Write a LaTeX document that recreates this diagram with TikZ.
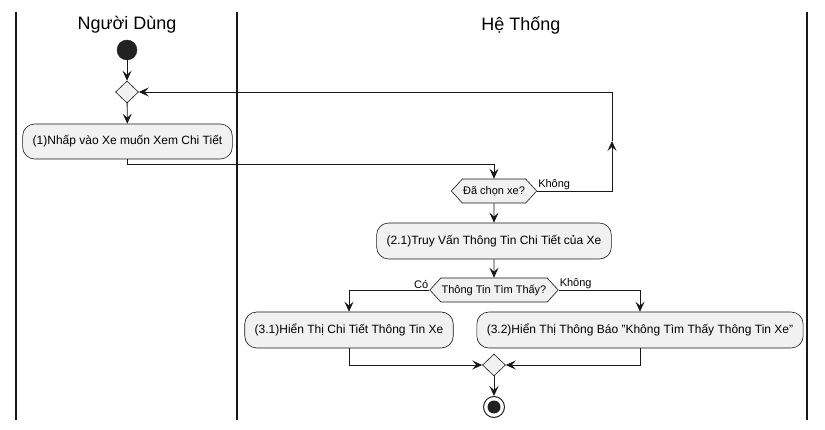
\documentclass[tikz,border=0pt]{standalone}
\usepackage{fontspec}
\setmainfont{Liberation Sans}
\usetikzlibrary{arrows.meta,shapes.geometric,shapes.symbols}
\definecolor{boxfill}{HTML}{F1F1F1}
\definecolor{ink}{HTML}{181818}
\definecolor{dot}{HTML}{222222}
\begin{document}
\begin{tikzpicture}[x=1pt,y=-1pt,
  lane/.style={draw=ink,line width=1.3pt},
  lanetitle/.style={font=\fontsize{18}{21}\selectfont,text=black,inner sep=0pt},
  action/.style={draw=ink,fill=boxfill,rounded corners=12pt,minimum height=35pt,inner xsep=10pt,inner ysep=0pt,font=\fontsize{12}{14}\selectfont,line width=0.6pt},
  decide/.style={draw=ink,fill=boxfill,shape=signal,signal to=west and east,signal pointer angle=95,minimum height=24pt,inner xsep=0.8pt,inner ysep=0pt,font=\fontsize{11}{13}\selectfont,line width=0.6pt},
  merge/.style={draw=ink,fill=boxfill,diamond,minimum width=23pt,minimum height=22pt,inner sep=0pt,line width=0.6pt},
  startdot/.style={circle,fill=dot,draw=dot,minimum size=20pt,inner sep=0pt},
  endring/.style={circle,draw=dot,fill=white,line width=1pt,minimum size=21pt,inner sep=0pt},
  enddot/.style={circle,fill=dot,minimum size=13pt,inner sep=0pt},
  flow/.style={draw=ink,line width=0.8pt,-{Stealth[length=10pt,width=9pt,inset=4pt]}},
  lbl/.style={font=\fontsize{11}{13}\selectfont,inner sep=1pt}
]
\useasboundingbox (0,0) rectangle (825,430);
% swimlanes
\draw[lane] (16,12) -- (16,420);
\draw[lane] (237,12) -- (237,420);
\draw[lane] (807,12) -- (807,420);
\node[lanetitle] (t1) at (127,25) {Người Dùng};
\node[lanetitle] (t2) at (521,25) {Hệ Thống};

% nodes
\node[startdot] (start) at (127,50) {};
\node[merge] (m1) at (127,92) {};
\node[action] (a1) at (127.5,141.5) {(1)Nhấp vào Xe muốn Xem Chi Tiết};
\node[decide] (d2) at (494,191) {Đã chọn xe?};
\node[action,minimum height=36pt] (a2) at (494,241) {(2.1)Truy Vấn Thông Tin Chi Tiết của Xe};
\node[decide] (d3) at (494,290) {Thông Tin Tìm Thấy?};
\node[action,minimum height=36pt] (a3) at (349,330) {(3.1)Hiển Thị Chi Tiết Thông Tin Xe};
\node[action,minimum height=36pt] (a4) at (640,330) {(3.2)Hiển Thị Thông Báo "Không Tìm Thấy Thông Tin Xe"};
\node[merge] (m2) at (494,365) {};
\node[endring] (end) at (494,407) {};
\node[enddot] (endin) at (494,407) {};
\coordinate (up) at (612,141);

% labels
\node[lbl,anchor=south west] (l1) at (d2.east) {Không};
\node[lbl,anchor=south east] (l2) at (d3.west) {Có};
\node[lbl,anchor=south west] (l3) at (d3.east) {Không};

% connectors
\draw[flow] (start) -- (m1);
\draw[flow] (m1) -- (a1);
\draw[flow] (a1.south) -- ++(0,5) -| (d2.north);
\draw[flow] (d2.east) -| (up);
\draw[flow] (up) |- (m1.east);
\draw[flow] (d2) -- (a2);
\draw[flow] (a2) -- (d3);
\draw[flow] (d3.west) -| (a3.north);
\draw[flow] (d3.east) -| (a4.north);
\draw[flow] (a3.south) |- (m2.west);
\draw[flow] (a4.south) |- (m2.east);
\draw[flow] (m2) -- (end);
\end{tikzpicture}
\end{document}
